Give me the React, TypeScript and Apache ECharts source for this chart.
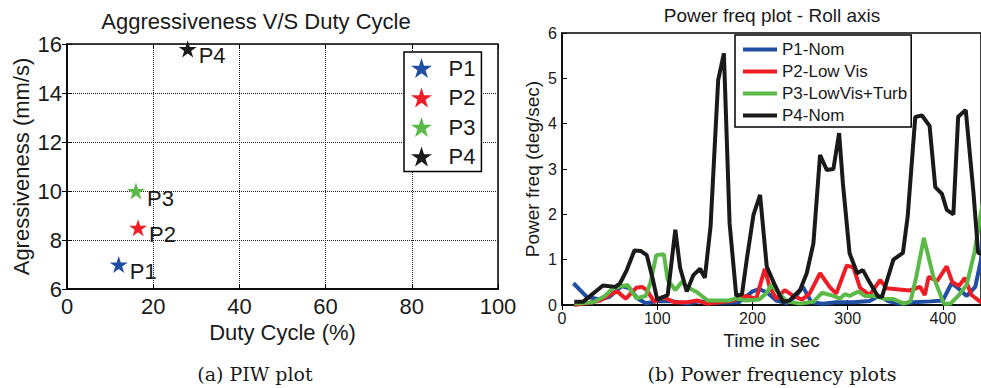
import React, { useEffect, useRef } from "react";
import * as echarts from "echarts";

// ---------- Left chart data (PIW plot) ----------
const piwNames = ["P1", "P2", "P3", "P4"];
const dutyCycle = [12, 16.5, 16, 28];
const aggressiveness = [7, 8.5, 10, 15.8];
const piwColors = ["#1f4ea3", "#ee1c25", "#5ab947", "#1a1a1a"];
const dutyTicks = [0, 20, 40, 60, 80, 100];
const aggrTicks = [6, 8, 10, 12, 14, 16];

// ---------- Right chart data (Power frequency) ----------
const freqNames = ["P1-Nom", "P2-Low Vis", "P3-LowVis+Turb", "P4-Nom"];
const freqColors = ["#1f4ea3", "#ee1c25", "#5ab947", "#1a1a1a"];
const timeTicks = [0, 100, 200, 300, 400];
const powerTicks = [0, 1, 2, 3, 4, 5, 6];

const p1Nom = [
  [12, 0.48], [26, 0.18], [40, 0.12], [50, 0.18], [63, 0.42], [71, 0.37], [79, 0.15], [88, 0.04],
  [99, 0.08], [117, 0.08], [131, 0.03], [145, 0.08], [162, 0.05], [186, 0.06], [200, 0.3], [207, 0.35],
  [215, 0.28], [225, 0.1], [236, 0.04], [246, 0.2], [253, 0.4], [262, 0.06], [274, 0.03], [288, 0.06],
  [306, 0.06], [323, 0.09], [333, 0.2], [343, 0.08], [355, 0.03], [369, 0.06], [387, 0.08], [400, 0.1],
  [409, 0.48], [416, 0.37], [425, 0.2], [434, 0.4], [440, 1.0], [445, 2.3],
];
const p2LowVis = [
  [13, 0.0], [29, 0.05], [40, 0.1], [54, 0.27], [58, 0.3], [67, 0.14], [78, 0.38], [84, 0.4],
  [89, 0.33], [97, 0.07], [106, 0.18], [118, 0.06], [131, 0.06], [142, 0.1], [152, 0.03], [166, 0.06],
  [180, 0.1], [193, 0.2], [204, 0.14], [213, 0.8], [218, 0.4], [225, 0.14], [234, 0.33], [243, 0.2],
  [252, 0.12], [260, 0.25], [271, 0.7], [281, 0.4], [288, 0.25], [299, 0.87], [306, 0.83], [313, 0.38],
  [323, 0.22], [334, 0.55], [341, 0.37], [365, 0.32], [376, 0.4], [381, 0.22], [385, 0.62], [394, 0.53],
  [404, 0.85], [410, 0.5], [417, 0.42], [423, 0.6], [430, 0.22], [440, 0.06], [445, 0.02],
];
const p3LowVisTurb = [
  [13, 0.03], [33, 0.06], [45, 0.2], [54, 0.38], [69, 0.44], [78, 0.15], [88, 0.2], [93, 0.5],
  [99, 1.1], [107, 1.12], [111, 0.55], [119, 0.33], [126, 0.51], [131, 0.4], [142, 0.28], [153, 0.1],
  [176, 0.1], [183, 0.15], [193, 0.1], [207, 0.12], [215, 0.27], [220, 0.45], [227, 0.27], [236, 0.08],
  [250, 0.03], [264, 0.07], [273, 0.27], [285, 0.2], [292, 0.14], [297, 0.24], [302, 0.2], [311, 0.3],
  [318, 0.2], [327, 0.2], [338, 0.14], [348, 0.13], [359, 0.03], [366, 0.08], [372, 0.62], [380, 1.48],
  [390, 0.62], [401, 0.03], [408, 0.03], [416, 0.2], [425, 0.45], [433, 1.15], [441, 2.16], [445, 2.6],
];
const p4Nom = [
  [13, 0.07], [22, 0.07], [43, 0.43], [56, 0.4], [61, 0.48], [68, 0.77], [76, 1.2], [83, 1.19],
  [89, 1.1], [95, 0.6], [100, 0.12], [111, 0.22], [119, 1.66], [124, 0.82], [131, 0.3], [138, 0.66],
  [145, 0.8], [150, 0.6], [156, 1.73], [164, 4.96], [170, 5.55], [176, 1.8], [183, 0.2], [189, 0.24],
  [194, 1.0], [201, 1.98], [208, 2.43], [215, 0.85], [222, 0.51], [232, 0.07], [239, 0.1], [250, 0.33],
  [257, 0.7], [264, 1.36], [271, 3.31], [278, 2.98], [285, 3.0], [291, 3.79], [295, 2.68], [302, 1.14],
  [310, 0.7], [316, 0.77], [323, 0.5], [332, 0.18], [336, 0.18], [348, 1.0], [358, 1.15], [363, 1.95],
  [371, 4.15], [378, 4.18], [386, 3.95], [392, 2.6], [399, 2.45], [404, 2.1], [411, 2.0], [416, 4.15],
  [424, 4.3], [432, 2.5], [437, 1.15], [445, 1.1],
];
const freqSeries = [p1Nom, p2LowVis, p3LowVisTurb, p4Nom];

const STAR =
  "path://M50 0 L61.23 34.55 L97.55 34.55 L68.17 55.9 L79.39 90.45 L50 69.1 L20.61 90.45 L31.83 55.9 L2.45 34.55 L38.77 34.55 Z";

const FONT = "Liberation Sans, Arial, sans-serif";
const SERIF = "DejaVu Serif, serif";
const TXT = "#1a1a1a";

function mainAxis(extra: any, fontSize: number) {
  return {
    type: "value",
    nameLocation: "middle",
    nameTextStyle: { fontSize, color: TXT, fontFamily: FONT },
    axisLine: { show: true, onZero: false, lineStyle: { color: "#000", width: 1.5 } },
    axisTick: { show: true, inside: true, length: 5, lineStyle: { color: "#000", width: 1 } },
    axisLabel: { fontSize, color: TXT, fontFamily: FONT, margin: 5 },
    splitLine: { show: false },
    ...extra,
  };
}

function mirrorAxis(extra: any) {
  return {
    type: "value",
    axisLine: { show: false },
    axisTick: { show: true, inside: true, length: 5, lineStyle: { color: "#000", width: 1 } },
    axisLabel: { show: false },
    splitLine: { show: false },
    ...extra,
  };
}

export default function App() {
  const ref = useRef<HTMLDivElement>(null);
  useEffect(() => {
    if (!ref.current) return;
    const chart = echarts.init(ref.current, undefined, { renderer: "svg" });
    const dotted = { show: true, lineStyle: { type: "dotted", color: "#222", width: 1 } };
    const option: any = {
      animation: false,
      backgroundColor: "#fff",
      textStyle: { fontFamily: FONT },
      grid: [
        { left: 67, top: 44, width: 431, height: 245, show: true, borderColor: "#000", borderWidth: 1.5 },
        { left: 562, top: 33, width: 420, height: 272, show: true, borderColor: "#000", borderWidth: 1.5 },
      ],
      xAxis: [
        mainAxis(
          {
            gridIndex: 0, min: dutyTicks[0], max: dutyTicks[dutyTicks.length - 1], interval: 20,
            position: "bottom", name: "Duty Cycle (%)", nameGap: 31,
            axisLabel: { fontSize: 22, color: TXT, fontFamily: FONT, margin: 6 },
            splitLine: dotted,
          },
          22
        ),
        mirrorAxis({ gridIndex: 0, min: 0, max: 100, interval: 20, position: "top" }),
        mainAxis(
          {
            gridIndex: 1, min: 0, max: 440, interval: 100, position: "bottom",
            name: "Time in sec", nameGap: 21,
            axisLabel: { fontSize: 16, color: TXT, fontFamily: FONT, margin: 5, customValues: timeTicks },
            axisTick: { show: true, inside: true, length: 5, lineStyle: { color: "#000" }, customValues: timeTicks },
          },
          19
        ),
        mirrorAxis({
          gridIndex: 1, min: 0, max: 440, interval: 100, position: "top",
          axisTick: { show: true, inside: true, length: 5, lineStyle: { color: "#000" }, customValues: timeTicks },
        }),
      ],
      yAxis: [
        mainAxis(
          {
            gridIndex: 0, min: aggrTicks[0], max: aggrTicks[aggrTicks.length - 1], interval: 2,
            position: "left", name: "Agressiveness (mm/s)", nameGap: 35,
            axisLabel: { fontSize: 22, color: TXT, fontFamily: FONT, margin: 5 },
            splitLine: dotted,
          },
          22
        ),
        mirrorAxis({ gridIndex: 0, min: 6, max: 16, interval: 2, position: "right" }),
        mainAxis(
          {
            gridIndex: 1, min: powerTicks[0], max: powerTicks[powerTicks.length - 1], interval: 1,
            position: "left", name: "Power freq (deg/sec)", nameGap: 20,
            axisLabel: { fontSize: 16, color: TXT, fontFamily: FONT, margin: 5 },
          },
          19
        ),
      ],
      legend: [
        {
          data: piwNames,
          orient: "vertical",
          left: 404,
          top: 52,
          padding: [5, 6, 4, 7],
          itemGap: 7.5,
          itemWidth: 44,
          itemHeight: 20,
          borderColor: "#000",
          borderWidth: 1.5,
          borderRadius: 0,
          backgroundColor: "#fff",
          textStyle: { fontSize: 22, color: TXT, fontFamily: FONT },
        },
        {
          data: freqNames,
          orient: "vertical",
          left: 735,
          top: 35,
          padding: [6, 4, 3, 8],
          itemGap: 5,
          itemWidth: 34,
          itemHeight: 4,
          icon: "rect",
          borderColor: "#000",
          borderWidth: 1.5,
          borderRadius: 0,
          backgroundColor: "#fff",
          textStyle: { fontSize: 17, color: TXT, fontFamily: FONT },
        },
      ],
      series: [
        ...piwNames.map((name, i) => ({
          type: "scatter",
          name,
          xAxisIndex: 0,
          yAxisIndex: 0,
          symbol: STAR,
          symbolKeepAspect: true,
          symbolSize: 18,
          itemStyle: { color: piwColors[i], opacity: 1 },
          label: {
            show: true,
            position: "right",
            distance: 2,
            offset: [0, 7],
            formatter: name,
            fontSize: 22,
            color: TXT,
            fontFamily: FONT,
          },
          z: 5,
          data: [[dutyCycle[i], aggressiveness[i]]],
        })),
        ...freqNames.map((name, i) => ({
          type: "line",
          name,
          xAxisIndex: 2,
          yAxisIndex: 2,
          symbol: "none",
          showSymbol: false,
          clip: true,
          color: freqColors[i],
          itemStyle: { color: freqColors[i] },
          lineStyle: { color: freqColors[i], width: 4 },
          z: 2 + i,
          data: freqSeries[i],
        })),
      ],
      graphic: [
        {
          type: "text", x: 256, y: 21,
          style: { text: "Aggressiveness V/S Duty Cycle", fontSize: 22, fontFamily: FONT, fill: TXT, align: "center", verticalAlign: "middle" },
        },
        {
          type: "text", x: 772, y: 15,
          style: { text: "Power freq plot - Roll axis", fontSize: 19, fontFamily: FONT, fill: TXT, align: "center", verticalAlign: "middle" },
        },
        {
          type: "text", x: 255, y: 374,
          style: { text: "(a) PIW plot", fontSize: 19, fontFamily: SERIF, fill: TXT, align: "center", verticalAlign: "middle" },
        },
        {
          type: "text", x: 772, y: 374,
          style: { text: "(b) Power frequency plots", fontSize: 19, fontFamily: SERIF, fill: TXT, align: "center", verticalAlign: "middle" },
        },
      ],
    };
    chart.setOption(option);
    return () => chart.dispose();
  }, []);
  return (
    <div
      ref={ref}
      style={{ position: "absolute", left: 0, top: 0, width: 981, height: 388 }}
    />
  );
}
